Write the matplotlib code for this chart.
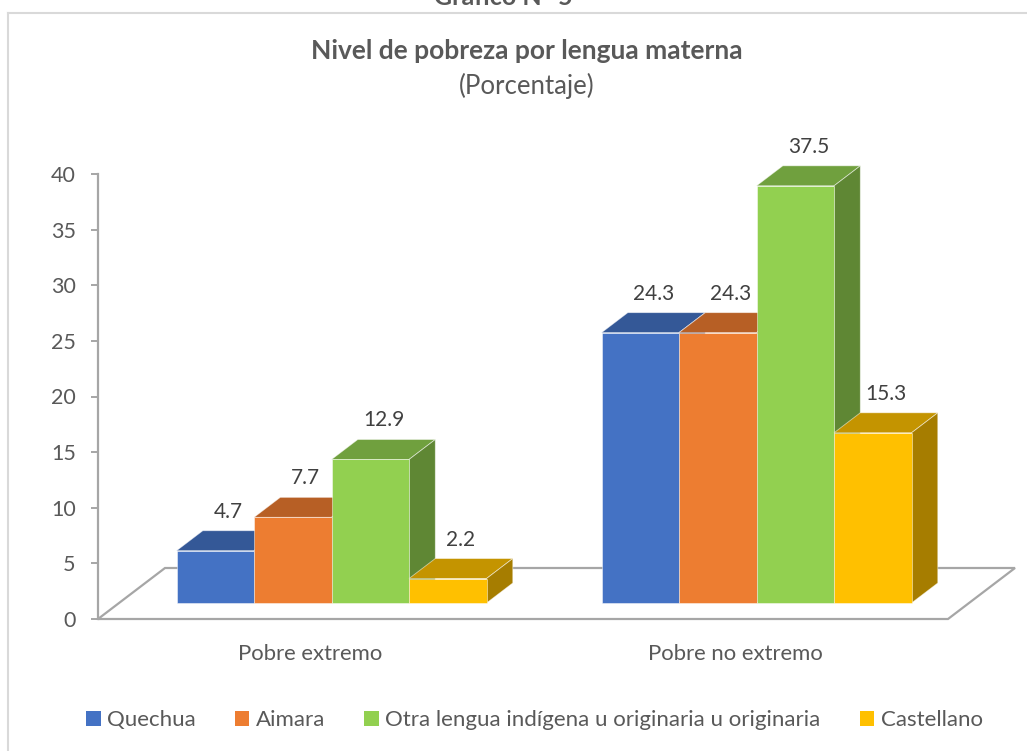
import matplotlib
matplotlib.use("Agg")
import matplotlib.pyplot as plt
from matplotlib.patches import Polygon, Patch
from matplotlib.lines import Line2D

# ---------------- data ----------------
categories = ["Pobre extremo", "Pobre no extremo"]
series = ["Quechua", "Aimara", "Otra lengua indígena u originaria u originaria", "Castellano"]
quechua = [4.7, 24.3]
aimara = [7.7, 24.3]
otra = [12.9, 37.5]
castellano = [2.2, 15.3]
values = [quechua, aimara, otra, castellano]
yticks = [0, 5, 10, 15, 20, 25, 30, 35, 40]

title = "Nivel de pobreza por lengua materna"
subtitle = "(Porcentaje)"
header = "Gráfico N° 5"

# ---------------- style ----------------
front_cols = ["#4472C4", "#ED7D31", "#92D050", "#FFC000"]
top_cols = ["#345897", "#B75F25", "#70A03E", "#C49400"]
side_cols = ["#2C4B83", "#9E5120", "#5F8734", "#A67D00"]
txt = "#595959"
lbl = "#404040"
grid_gray = "#A6A6A6"

plt.rcParams['font.family'] = ['Lato', 'DejaVu Sans']

W, H = 1027, 751
fig = plt.figure(figsize=(W / 100, H / 100), dpi=100)
fig.patch.set_facecolor("white")

# axes placed so that y=0 at px 619, y=40 at px 174, x from px 98 to 948
ax_l, ax_r, ax_b, ax_t = 98, 948, 619, 174
ax = fig.add_axes([ax_l / W, 1 - ax_b / H, (ax_r - ax_l) / W, (ax_b - ax_t) / H])
ax.set_xlim(0, 2)
ax.set_ylim(0, 40)
ax.set_facecolor("none")

px_per_x = (ax_r - ax_l) / 2.0
px_per_y = (ax_b - ax_t) / 40.0
DX = 67 / px_per_x      # floor depth (x shift)
DY = 51 / px_per_y      # floor depth (y shift)
z0, z1 = 0.314, 0.706   # bar front/back depth fraction
group_w = 310 / px_per_x
bar_w = group_w / len(series)


def P(x, y, z):
    return (x + z * DX, y + z * DY)


# floor
floor = Polygon([P(0, 0, 0), P(2, 0, 0), P(2, 0, 1), P(0, 0, 1)], closed=True,
                facecolor="white", edgecolor=grid_gray, lw=1.6, zorder=1,
                clip_on=False, joinstyle="miter")
ax.add_patch(floor)

ec = (1, 1, 1, 0.55)
for ci, cat in enumerate(categories):
    center = ci + 0.5
    for si in range(len(series)):
        v = values[si][ci]
        x0 = center - group_w / 2 + si * bar_w
        x1 = x0 + bar_w
        top = Polygon([P(x0, v, z0), P(x1, v, z0), P(x1, v, z1), P(x0, v, z1)],
                      closed=True, facecolor=top_cols[si], edgecolor=ec, lw=0.6,
                      zorder=3, clip_on=False)
        side = Polygon([P(x1, 0, z0), P(x1, 0, z1), P(x1, v, z1), P(x1, v, z0)],
                       closed=True, facecolor=side_cols[si], edgecolor=ec, lw=0.6,
                       zorder=3, clip_on=False)
        front = Polygon([P(x0, 0, z0), P(x1, 0, z0), P(x1, v, z0), P(x0, v, z0)],
                        closed=True, facecolor=front_cols[si], edgecolor=ec, lw=0.6,
                        zorder=3, clip_on=False)
        for p in (top, side, front):
            ax.add_patch(p)
        lx, ly = P((x0 + x1) / 2, v, (z0 + z1) / 2)
        ax.text(lx, v + z1 * DY + 19 / px_per_y, f"{v:.1f}", ha="center", va="center",
                fontsize=15, color=lbl, zorder=5, clip_on=False)

# axes styling
for s in ["top", "right", "bottom"]:
    ax.spines[s].set_visible(False)
ax.spines["left"].set_color(grid_gray)
ax.spines["left"].set_linewidth(1.6)
ax.spines["left"].set_zorder(2)
ax.set_yticks(yticks)
ax.set_yticklabels([str(t) for t in yticks])
ax.tick_params(axis="y", length=5, width=1.4, color=grid_gray, labelcolor=txt,
               labelsize=15.5, pad=11)
ax.set_xticks([0.5, 1.5])
ax.set_xticklabels(categories)
ax.tick_params(axis="x", length=0, labelcolor=txt, labelsize=15.9, pad=18)

# titles
fig.text(503 / W, 1 - 5 / H, header, ha="center", va="baseline",
         fontsize=18, fontweight="bold", color=txt)
fig.text(527 / W, 1 - 51 / H, title, ha="center", va="center",
         fontsize=19, fontweight="bold", color=txt)
fig.text(527 / W, 1 - 86 / H, subtitle, ha="center", va="center",
         fontsize=18.5, color=txt)

# legend
handles = [Patch(facecolor=c, edgecolor="none") for c in front_cols]
fig.legend(handles, series, loc="center", bbox_to_anchor=(534.5 / W, 1 - 720 / H),
           ncol=4, frameon=False, fontsize=16, labelcolor=txt,
           handlelength=0.65, handleheight=0.65, handletextpad=0.3, columnspacing=1.75)

# chart border (light gray)
border = "#D9D9D9"
fig.add_artist(Line2D([8 / W, 1.0], [1 - 13 / H, 1 - 13 / H], color=border, lw=1.5,
                      transform=fig.transFigure))
fig.add_artist(Line2D([8 / W, 8 / W], [0.0, 1 - 13 / H], color=border, lw=1.5,
                      transform=fig.transFigure))

fig.savefig("out.png", dpi=100, facecolor="white")
